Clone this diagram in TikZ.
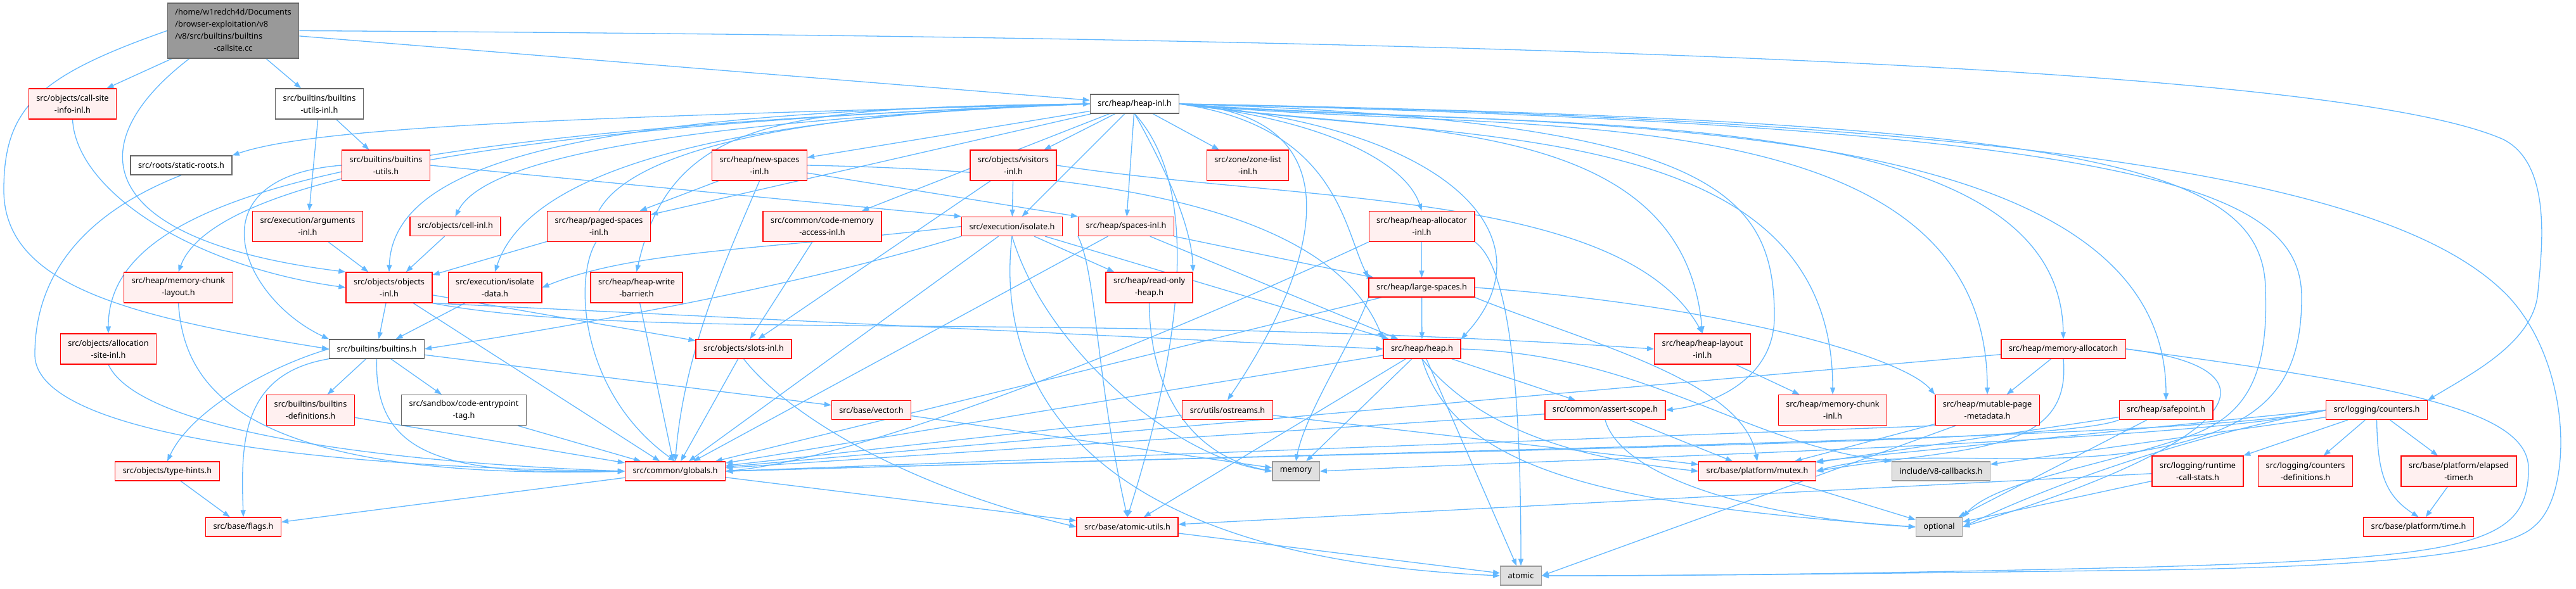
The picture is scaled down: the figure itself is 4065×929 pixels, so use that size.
\documentclass[tikz,border=0pt]{standalone}
\usepackage{fontspec}
\setmainfont{Noto Sans}
\usepackage{tikz}
\usetikzlibrary{arrows.meta, backgrounds}
\definecolor{edgeblue}{HTML}{63B8FF}
\definecolor{hdrfill}{HTML}{FFF0F0}
\definecolor{leafline}{HTML}{666666}
\definecolor{sysfill}{HTML}{E0E0E0}
\definecolor{sysline}{HTML}{999999}
\definecolor{rootfill}{HTML}{999999}

\begin{document}
\begin{tikzpicture}[
  x=1pt, y=-1pt,
  every node/.style={font=\fontsize{12.7}{19}\selectfont, text=black},
  hdr/.style={
    draw=red,
    fill=hdrfill,
    line width=1.3pt,
    inner xsep=12pt,
    inner ysep=2pt,
    minimum height=30pt,
    align=center,
  },
  two/.style={minimum height=48pt},
  leaf/.style={hdr, draw=leafline, fill=white},
  sys/.style={hdr, draw=sysline, fill=sysfill},
  rootfile/.style={hdr, draw=leafline, fill=rootfill, minimum height=87pt},
  dep/.style={
    draw=edgeblue,
    line width=1.3pt,
    -{Triangle[length=11pt,width=8pt]},
  },
]
  \useasboundingbox (0,0) rectangle (4065,929);

  % files
  \node[rootfile] (root) at (368,48.5) {\begin{tabular}{@{}l@{}}/home/w1redch4d/Documents\\/browser-exploitation/v8\\/v8/src/builtins/builtins\\\multicolumn{1}{@{}c@{}}{-callsite.cc}\end{tabular}};
  \node[leaf] (heapinl) at (1790.5,164) {src/heap/heap-inl.h};
  \node[hdr,two] (callsite) at (114.5,164) {src/objects/call-site\\-info-inl.h};
  \node[leaf,two] (butilsinl) at (504,164) {src/builtins/builtins\\-utils-inl.h};
  \node[leaf] (staticroots) at (286,261) {src/roots/static-roots.h};
  \node[hdr,two] (butils) at (609,261) {src/builtins/builtins\\-utils.h};
  \node[hdr,two] (newspaces) at (1198.5,261) {src/heap/new-spaces\\-inl.h};
  \node[hdr,two] (visitors) at (1599,261) {src/objects/visitors\\-inl.h};
  \node[hdr,two] (zonelist) at (1969,261) {src/zone/zone-list\\-inl.h};
  \node[hdr,two] (argsinl) at (485.5,357.5) {src/execution/arguments\\-inl.h};
  \node[hdr] (cellinl) at (718.5,357.5) {src/objects/cell-inl.h};
  \node[hdr,two] (pagedinl) at (945,357.5) {src/heap/paged-spaces\\-inl.h};
  \node[hdr,two] (codemem) at (1297.5,357.5) {src/common/code-memory\\-access-inl.h};
  \node[hdr] (isolate) at (1597,357.5) {src/execution/isolate.h};
  \node[hdr] (spacesinl) at (1777,357.5) {src/heap/spaces-inl.h};
  \node[hdr,two] (heapalloc) at (2243.5,357.5) {src/heap/heap-allocator\\-inl.h};
  \node[hdr,two] (mclayout) at (281.5,454) {src/heap/memory-chunk\\-layout.h};
  \node[hdr,two] (objinl) at (614,454) {src/objects/objects\\-inl.h};
  \node[hdr,two] (isodata) at (781,454) {src/execution/isolate\\-data.h};
  \node[hdr,two] (wbarrier) at (1004.5,454) {src/heap/heap-write\\-barrier.h};
  \node[hdr,two] (rohheap) at (1813.5,454) {src/heap/read-only\\-heap.h};
  \node[hdr] (large) at (2243.5,454) {src/heap/large-spaces.h};
  \node[hdr,two] (allocsite) at (171,551) {src/objects/allocation\\-site-inl.h};
  \node[leaf] (builtins) at (594.5,551) {src/builtins/builtins.h};
  \node[hdr] (slots) at (1173.5,551) {src/objects/slots-inl.h};
  \node[hdr] (heap) at (2244,551) {src/heap/heap.h};
  \node[hdr,two] (layoutinl) at (2686.5,551) {src/heap/heap-layout\\-inl.h};
  \node[hdr] (memalloc) at (3256,551) {src/heap/memory-allocator.h};
  \node[hdr,two] (bdefs) at (490,647.5) {src/builtins/builtins\\-definitions.h};
  \node[leaf,two] (cetag) at (732,647.5) {src/sandbox/code-entrypoint\\-tag.h};
  \node[hdr] (vector) at (1375,647.5) {src/base/vector.h};
  \node[hdr] (ostreams) at (1937,647.5) {src/utils/ostreams.h};
  \node[hdr] (assert) at (2533,647.5) {src/common/assert-scope.h};
  \node[hdr,two] (mcinl) at (2892,647.5) {src/heap/memory-chunk\\-inl.h};
  \node[hdr,two] (mutable) at (3136,647.5) {src/heap/mutable-page\\-metadata.h};
  \node[hdr] (safepoint) at (3418,647.5) {src/heap/safepoint.h};
  \node[hdr] (counters) at (3750.5,647.5) {src/logging/counters.h};
  \node[hdr] (typehints) at (264,744) {src/objects/type-hints.h};
  \node[hdr] (globals) at (1065.5,744) {src/common/globals.h};
  \node[sys] (memory) at (2045,744) {memory};
  \node[hdr] (mutex) at (2773,744) {src/base/platform/mutex.h};
  \node[sys] (callbacks) at (3063,744) {include/v8-callbacks.h};
  \node[hdr,two] (rcs) at (3468,744) {src/logging/runtime\\-call-stats.h};
  \node[hdr,two] (cdefs) at (3638,744) {src/logging/counters\\-definitions.h};
  \node[hdr,two] (elapsed) at (3880,744) {src/base/platform/elapsed\\-timer.h};
  \node[hdr] (flags) at (384,832) {src/base/flags.h};
  \node[hdr] (atomicutils) at (1779,832) {src/base/atomic-utils.h};
  \node[sys] (optional) at (3060,832) {optional};
  \node[hdr] (time) at (3816.5,832) {src/base/platform/time.h};
  \node[sys] (atomic) at (2400,909) {atomic};

  \begin{scope}[on background layer]
  % includes of the .cc file
  \draw[dep] (root) -- (callsite);
  \draw[dep] (root) -- (butilsinl);
  \draw[dep] ([xshift=35pt]root.south west) .. controls (120,230) and (150,380) .. (objinl.north west);
  \draw[dep] (root.west) .. controls (60,120) and (6,170) .. (6,300) .. controls (6,450) and (200,500) .. (builtins.west);
  \draw[dep] (root) -- (heapinl);
  \draw[dep] (root.east) .. controls (2500,60) and (3700,110) .. (3950,220) .. controls (4030,260) and (4010,400) .. (4005,460) .. controls (4000,540) and (3900,590) .. (counters.north east);

  % heap-inl.h
  \draw[dep] (heapinl.west) .. controls (900,185) and (500,200) .. (staticroots.north east);
  \draw[dep] (heapinl.west) .. controls (600,205) and (170,300) .. (allocsite.north);
  \draw[dep] (heapinl.west) .. controls (700,200) and (330,300) .. (mclayout.north);
  \draw[dep] (heapinl.west) .. controls (900,175) and (620,260) .. (objinl.north);
  \draw[dep] (heapinl.west) .. controls (1000,195) and (760,260) .. (cellinl.north);
  \draw[dep] (heapinl.west) .. controls (1100,185) and (830,280) .. (isodata.north);
  \draw[dep] (heapinl.west) .. controls (1250,170) and (1060,180) .. (wbarrier.north);
  \draw[dep] (heapinl) -- (pagedinl);
  \draw[dep] (heapinl) -- (newspaces);
  \draw[dep] (heapinl) -- (codemem);
  \draw[dep] (heapinl) -- (visitors);
  \draw[dep] (heapinl) -- (isolate);
  \draw[dep] (heapinl) -- (spacesinl);
  \draw[dep] (heapinl) -- (zonelist);
  \draw[dep] (heapinl.south) .. controls (1830,250) and (1880,350) .. (rohheap.north east);
  \draw[dep] (heapinl.south) .. controls (1900,300) and (1860,560) .. (atomicutils.north);
  \draw[dep] (heapinl.east) .. controls (2100,190) and (2220,260) .. (heapalloc.north);
  \draw[dep] (heapinl.east) .. controls (2110,200) and (2120,360) .. (large.north west);
  \draw[dep] (heapinl.east) .. controls (2300,200) and (2450,380) .. (heap.north east);
  \draw[dep] (heapinl.east) .. controls (2150,180) and (2080,420) .. (ostreams.north);
  \draw[dep] (heapinl.east) .. controls (2210,213) and (2655,176) .. (layoutinl.north);
  \draw[dep] (heapinl.east) .. controls (2700,190) and (2800,300) .. (2800,500) .. controls (2800,600) and (2700,640) .. (assert.east);
  \draw[dep] (heapinl.east) .. controls (2300,226) and (2892,180) .. (mcinl.north);
  \draw[dep] (heapinl.east) .. controls (2360,216) and (3136,130) .. (mutable.north);
  \draw[dep] (heapinl.east) .. controls (2380,210) and (3250,140) .. (memalloc.north);
  \draw[dep] (heapinl.east) .. controls (2400,206) and (3418,150) .. (safepoint.north);
  \draw[dep] (heapinl.east) .. controls (3300,190) and (3575,260) .. (3575,460) .. controls (3580,600) and (3540,660) .. (3450,690) .. controls (3300,740) and (3150,760) .. (optional.north east);
  \draw[dep] (heapinl.east) .. controls (3400,200) and (3632,300) .. (3632,470) .. controls (3632,620) and (3560,680) .. (3380,712) .. controls (3200,740) and (3000,705) .. (mutex.east);
  \draw[dep] (heapinl.east) .. controls (3300,190) and (3800,300) .. (3960,470) .. controls (4060,580) and (4060,780) .. (4000,830) .. controls (3950,880) and (3700,895) .. (3400,900) .. controls (3000,905) and (2700,909) .. (atomic.east);

  % upper rows
  \draw[dep] (callsite.south) .. controls (120,300) and (300,420) .. (objinl.west);
  \draw[dep] (butilsinl) -- (argsinl);
  \draw[dep] (butilsinl) -- (butils);
  \draw[dep] (butils.west) .. controls (300,280) and (380,470) .. (builtins.north west);
  \draw[dep] (butils.east) -- (isolate.north west);
  \draw[dep] (staticroots.south) .. controls (150,330) and (55,420) .. (55,560) .. controls (55,700) and (600,740) .. (globals.west);
  \draw[dep] (newspaces) -- (pagedinl);
  \draw[dep] (newspaces) -- (spacesinl.north west);
  \draw[dep] (newspaces.east) .. controls (1750,270) and (2100,330) .. (heap.north west);
  \draw[dep] (newspaces.south) .. controls (1150,400) and (1080,550) .. (globals.north);
  \draw[dep] (visitors) -- (isolate);
  \draw[dep] (visitors) -- (slots);
  \draw[dep] (visitors.east) .. controls (2050,320) and (2560,300) .. (layoutinl.north);
  \draw[dep] (argsinl) -- (objinl);
  \draw[dep] (cellinl) -- (objinl);
  \draw[dep] (pagedinl) -- (objinl);
  \draw[dep] (pagedinl.north) .. controls (990,250) and (1200,180) .. (heapinl.west);
  \draw[dep] (pagedinl.260) .. controls (905,440) and (915,620) .. (globals.north);
  \draw[dep] (codemem) -- (slots);
  \draw[dep] (isolate.west) .. controls (1200,395) and (1000,395) .. (isodata.east);
  \draw[dep] (isolate.south west) .. controls (1300,440) and (1000,500) .. (builtins.east);
  \draw[dep] (isolate) -- (globals);
  \draw[dep] (isolate) -- (heap);
  \draw[dep] (isolate) -- (rohheap);
  \draw[dep] (isolate.south) .. controls (1650,550) and (1850,720) .. (memory.west);
  \draw[dep] (isolate.south) .. controls (1570,600) and (1700,880) .. (atomic.west);
  \draw[dep] (spacesinl) -- (heap);
  \draw[dep] (spacesinl) -- (large);
  \draw[dep] (spacesinl) -- (globals);
  \draw[dep] (spacesinl.south west) .. controls (1730,430) and (1730,600) .. (atomicutils.north);
  \draw[dep] (heapalloc) -- (large);
  \draw[dep] (heapalloc.south west) .. controls (1950,480) and (1400,720) .. (globals.east);
  \draw[dep] (heapalloc.south east) .. controls (2380,420) and (2400,600) .. (atomic.north);

  % middle rows
  \draw[dep] (mclayout.south) .. controls (290,600) and (360,760) .. (globals.west);
  \draw[dep] (objinl) -- (builtins);
  \draw[dep] (objinl) -- (globals);
  \draw[dep] (objinl) -- (slots);
  \draw[dep] (objinl.south east) -- (heap.west);
  \draw[dep] (objinl.south east) .. controls (1000,540) and (1700,490) .. (layoutinl.west);
  \draw[dep] (isodata) -- (builtins);
  \draw[dep] (wbarrier) -- (globals);
  \draw[dep] (rohheap.south) .. controls (1815,620) and (1880,720) .. (memory.west);
  \draw[dep] (large) -- (heap);
  \draw[dep] (large) -- (globals);
  \draw[dep] (large.south west) .. controls (2140,530) and (2060,650) .. (memory.north);
  \draw[dep] (large.south east) .. controls (2500,540) and (2750,600) .. (mutex.north);
  \draw[dep] (large.east) .. controls (2700,480) and (3000,560) .. (mutable.north west);
  \draw[dep] (allocsite.south) .. controls (220,680) and (600,730) .. (globals.west);
  \draw[dep] (builtins) -- (bdefs);
  \draw[dep] (builtins) -- (cetag);
  \draw[dep] (builtins) -- (vector);
  \draw[dep] (builtins.south) .. controls (590,720) and (700,750) .. (globals.west);
  \draw[dep] (builtins.west) .. controls (420,580) and (300,650) .. (typehints.north);
  \draw[dep] (builtins.south west) .. controls (380,590) and (380,700) .. (flags.north);
  \draw[dep] (slots) -- (globals);
  \draw[dep] (slots.south) .. controls (1230,640) and (1400,760) .. (atomicutils.west);
  \draw[dep] (heap) -- (globals);
  \draw[dep] (heap) -- (memory);
  \draw[dep] (heap) -- (atomicutils);
  \draw[dep] (heap) -- (atomic);
  \draw[dep] (heap) -- (assert);
  \draw[dep] (heap.south) .. controls (2350,700) and (2550,730) .. (mutex.west);
  \draw[dep] (heap.south) .. controls (2300,760) and (2600,800) .. (optional.west);
  \draw[dep] (heap.east) .. controls (2600,560) and (2750,700) .. (callbacks.north west);
  \draw[dep] (layoutinl) -- (mcinl);
  \draw[dep] (memalloc) -- (mutable);
  \draw[dep] (memalloc) -- (globals);
  \draw[dep] (memalloc.south) .. controls (3270,720) and (3100,705) .. (mutex.east);
  \draw[dep] (memalloc.east) .. controls (3600,580) and (3560,690) .. (optional.east);
  \draw[dep] (memalloc.east) .. controls (3800,610) and (3990,650) .. (3990,740) .. controls (3990,860) and (3900,880) .. (3400,895) .. controls (3000,905) and (2700,909) .. (atomic.east);

  % lower rows
  \draw[dep] (bdefs) -- (globals);
  \draw[dep] (cetag) -- (globals);
  \draw[dep] (vector) -- (memory);
  \draw[dep] (ostreams) -- (globals);
  \draw[dep] (ostreams) -- (mutex);
  \draw[dep] (assert) -- (globals);
  \draw[dep] (assert) -- (mutex);
  \draw[dep] (assert.south) .. controls (2560,760) and (2800,820) .. (optional.west);
  \draw[dep] (mutable) -- (mutex);
  \draw[dep] (mutable.south west) -- (globals.east);
  \draw[dep] ([xshift=-50pt]mutable.south) -- (atomic.east);
  \draw[dep] (safepoint.south west) .. controls (3250,700) and (2500,705) .. (globals.east);
  \draw[dep] (safepoint) -- (mutex);
  \draw[dep] (safepoint) -- (optional);
  \draw[dep] (counters.west) .. controls (3500,690) and (2500,705) .. (globals.east);
  \draw[dep] (counters.west) .. controls (3500,695) and (2600,720) .. (memory.east);
  \draw[dep] (counters.west) -- (mutex.north east);
  \draw[dep] (counters) -- (callbacks);
  \draw[dep] (counters.west) .. controls (3450,690) and (3250,760) .. (optional.east);
  \draw[dep] (counters) -- (rcs);
  \draw[dep] (counters) -- (cdefs);
  \draw[dep] (counters) -- (elapsed);
  \draw[dep] (counters.south) .. controls (3752,740) and (3760,780) .. (time.north);
  \draw[dep] (typehints) -- (flags);
  \draw[dep] (globals) -- (flags);
  \draw[dep] (globals) -- (atomicutils);
  \draw[dep] (mutex) -- (optional);
  \draw[dep] (rcs) -- (optional);
  \draw[dep] (rcs) -- (atomicutils);
  \draw[dep] (elapsed) -- (time);
  \draw[dep] (atomicutils) -- (atomic);
  \end{scope}
\end{tikzpicture}
\end{document}
